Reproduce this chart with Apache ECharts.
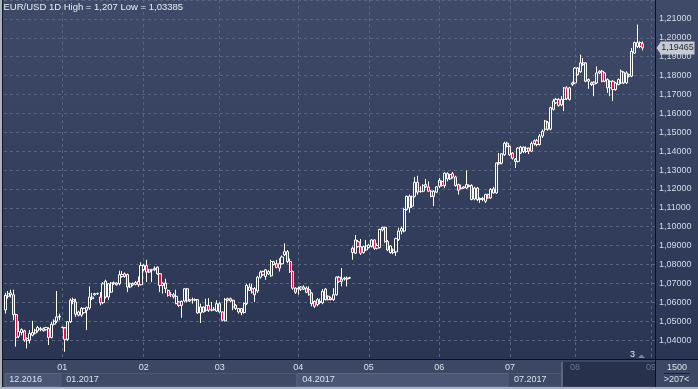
<!DOCTYPE html>
<html><head><meta charset="utf-8">
<script src="https://cdn.jsdelivr.net/npm/echarts@6/dist/echarts.min.js"></script>
<style>html,body{margin:0;padding:0;background:#3b4763;}#c{width:698px;height:389px;}</style>
</head><body><div id="c"></div>
<script>
// ---------------- data ----------------
const titleText = 'EUR/USD 1D High = 1,207 Low = 1,03385';
// month slots on the category axis: [month, year, number of slots]
const monthSlots = [['12','2016',21],['01','2017',30],['02','2017',28],['03','2017',29],['04','2017',26],
  ['05','2017',26],['06','2017',26],['07','2017',24],['08','2017',28],['09','2017',2]];
const monthTickLabels = ['01','02','03','04','05','06','07','08','09'];
const quarterStarts = ['12','01','04','07'];
const dimMonths = ['08','09'];
const cornerTop = '1500';
const cornerBottom = '>207<';
const markerText = '3';
// candles: [open, close, low, high]
const dec2016 = [
 [1.0560,1.0637,1.0540,1.0650],[1.0632,1.0645,1.0620,1.0660],[1.0640,1.0650,1.0625,1.0667],[1.0640,1.0535,1.0505,1.0667],
 [1.0535,1.0414,1.0365,1.0540],[1.0420,1.0445,1.0410,1.0500],[1.0440,1.0456,1.0425,1.0462],[1.0449,1.0400,1.0391,1.0455],
 [1.0397,1.0409,1.0356,1.0415],[1.0400,1.0435,1.0382,1.0453],[1.0426,1.0440,1.0420,1.0502],[1.0437,1.0453,1.0430,1.0460],
 [1.0449,1.0467,1.0440,1.0475],[1.0455,1.0461,1.0447,1.0470],[1.0450,1.0460,1.0445,1.0467],[1.0455,1.0467,1.0450,1.0470],
 [1.0461,1.0414,1.0374,1.0468],[1.0414,1.0484,1.0409,1.0497],[1.0484,1.0500,1.0478,1.0510],[1.0500,1.0523,1.0490,1.0660],
 [1.0522,1.0526,1.0505,1.0540]];
const jan2017 = [
 [1.0467,1.0468,1.0462,1.0470],[1.0465,1.0404,1.03385,1.0470],[1.0404,1.0497,1.0395,1.0500],[1.0497,1.0611,1.0490,1.0620],
 [1.0605,1.0615,1.0590,1.0625],[1.0602,1.0537,1.0523,1.0619],[1.0532,1.0549,1.0525,1.0555],[1.0532,1.0567,1.0523,1.0575],
 [1.0545,1.0567,1.0540,1.0572],[1.0558,1.0572,1.0453,1.0578],[1.0570,1.0628,1.0560,1.0684],[1.0619,1.0628,1.0612,1.0650],
 [1.0640,1.0646,1.0635,1.0650],[1.0645,1.0646,1.0640,1.0652],[1.0628,1.0597,1.0584,1.0654],[1.0598,1.0698,1.0590,1.0707],
 [1.0712,1.0628,1.0620,1.0720],[1.0628,1.0698,1.0612,1.0702],[1.0654,1.0702,1.0650,1.0707],[1.0698,1.0704,1.0693,1.0710],
 [1.0702,1.0693,1.0688,1.0707],[1.0698,1.0746,1.0690,1.0768],[1.0737,1.0747,1.0730,1.0765],[1.0751,1.0737,1.0730,1.0758],
 [1.0747,1.0681,1.0654,1.0752],[1.0681,1.0698,1.0675,1.0705],[1.0692,1.0700,1.0685,1.0705],[1.0695,1.0705,1.0690,1.0712],
 [1.0711,1.0693,1.0681,1.0737],[1.0693,1.0795,1.0690,1.0812]];
const feb2017 = [
 [1.0772,1.0795,1.0765,1.0804],[1.0795,1.0760,1.0707,1.0825],[1.0760,1.0772,1.0755,1.0777],[1.0770,1.0772,1.0707,1.0777],
 [1.0772,1.0780,1.0765,1.0790],[1.0786,1.0751,1.0745,1.0790],[1.0751,1.0689,1.0654,1.0755],[1.0689,1.0702,1.0646,1.0705],
 [1.0702,1.0672,1.0649,1.0725],[1.0663,1.0637,1.0630,1.0668],[1.0642,1.0640,1.0628,1.0654],[1.0640,1.0630,1.0620,1.0650],
 [1.0593,1.0632,1.0590,1.0667],[1.0602,1.0584,1.0575,1.0607],[1.0584,1.0605,1.0518,1.0610],[1.0607,1.0672,1.0600,1.0675],
 [1.0672,1.0607,1.0600,1.0676],[1.0607,1.0614,1.0602,1.0618],[1.0614,1.0612,1.0593,1.0625],[1.0612,1.0615,1.0605,1.0620],
 [1.0614,1.0544,1.0540,1.0616],[1.0544,1.0575,1.0491,1.0593],[1.0575,1.0549,1.0545,1.0580],[1.0558,1.0584,1.0550,1.0619],
 [1.0584,1.0558,1.0549,1.0622],[1.0558,1.0561,1.0552,1.0602],[1.0561,1.0563,1.0555,1.0575],[1.0554,1.0593,1.0549,1.0611]];
const mar2017 = [
 [1.0593,1.0549,1.0545,1.0600],[1.0549,1.0505,1.0502,1.0552],[1.0502,1.0614,1.0498,1.0623],[1.0611,1.0619,1.0605,1.0625],
 [1.0619,1.0607,1.0600,1.0625],[1.0611,1.0575,1.0558,1.0614],[1.0584,1.0567,1.0560,1.0590],[1.0549,1.0567,1.0540,1.0570],
 [1.0567,1.0546,1.0532,1.0570],[1.0546,1.0593,1.0540,1.0600],[1.0593,1.0689,1.0585,1.0698],[1.0681,1.0663,1.0660,1.0700],
 [1.0672,1.0654,1.0646,1.0698],[1.0640,1.0672,1.0602,1.0680],[1.0660,1.0733,1.0650,1.0740],[1.0733,1.0760,1.0725,1.0768],
 [1.0763,1.0746,1.0740,1.0768],[1.0737,1.0772,1.0719,1.0775],[1.0750,1.0763,1.0745,1.0770],[1.0740,1.0816,1.0735,1.0825],
 [1.0800,1.0814,1.0795,1.0820],[1.0805,1.0785,1.0780,1.0825],[1.0781,1.0804,1.0763,1.0833],[1.0804,1.0840,1.0800,1.0848],
 [1.0851,1.0868,1.0845,1.0912],[1.0868,1.0816,1.0807,1.0877],[1.0816,1.0763,1.0755,1.0833],[1.0763,1.0675,1.0667,1.0768],
 [1.0675,1.0653,1.0645,1.0680]];
const apr2017 = [
 [1.0670,1.0675,1.0640,1.0684],[1.0670,1.0681,1.0660,1.0686],[1.0670,1.0681,1.0665,1.0690],[1.0675,1.0653,1.0648,1.0684],
 [1.0667,1.0640,1.0635,1.0684],[1.0649,1.0593,1.0579,1.0652],[1.0605,1.0579,1.0570,1.0610],[1.0588,1.0614,1.0579,1.0623],
 [1.0605,1.0600,1.0590,1.0620],[1.0597,1.0658,1.0590,1.0670],[1.0670,1.0614,1.0610,1.0675],[1.0614,1.0632,1.0610,1.0637],
 [1.0623,1.0614,1.0610,1.0630],[1.0614,1.0640,1.0608,1.0675],[1.0640,1.0733,1.0635,1.0737],[1.0733,1.0711,1.0702,1.0740],
 [1.0711,1.0723,1.0684,1.0781],[1.0723,1.0728,1.0715,1.0735],[1.0723,1.0728,1.0684,1.0737],[1.0728,1.0730,1.0725,1.0735],
 [1.0886,1.0863,1.0825,1.0895],[1.0860,1.0930,1.0855,1.0956],[1.0921,1.0895,1.0890,1.0930],[1.0895,1.0860,1.0851,1.0935],
 [1.0863,1.0895,1.0858,1.0900],[1.0877,1.0898,1.0872,1.0930]];
const may2017 = [
 [1.0890,1.0903,1.0885,1.0910],[1.0895,1.0930,1.0890,1.0935],[1.0930,1.0886,1.0877,1.0933],[1.0886,1.0900,1.0880,1.0912],
 [1.0890,1.0986,1.0885,1.0990],[1.0983,1.0997,1.0975,1.1000],[1.0997,1.0921,1.0915,1.1000],[1.0921,1.0877,1.0870,1.0930],
 [1.0863,1.0898,1.0858,1.0902],[1.0877,1.0863,1.0855,1.0885],[1.0867,1.0937,1.0846,1.0942],[1.0933,1.0977,1.0925,1.0995],
 [1.0977,1.0990,1.0960,1.1000],[1.0977,1.1091,1.0970,1.1100],[1.1091,1.1161,1.1085,1.1165],[1.1161,1.1100,1.1074,1.1170],
 [1.1109,1.1158,1.1100,1.1165],[1.1161,1.1235,1.1155,1.1263],[1.1235,1.1183,1.1170,1.1270],[1.1186,1.1188,1.1180,1.1214],
 [1.1188,1.1218,1.1183,1.1225],[1.1223,1.1211,1.1205,1.1253],[1.1211,1.1188,1.1183,1.1240],[1.1188,1.1161,1.1155,1.1193],
 [1.1161,1.1188,1.1109,1.1193],[1.1183,1.1211,1.1178,1.1215]];
const jun2017 = [
 [1.1214,1.1246,1.1205,1.1258],[1.1240,1.1218,1.1212,1.1245],[1.1218,1.1284,1.1205,1.1288],[1.1281,1.1253,1.1240,1.1288],
 [1.1253,1.1276,1.1248,1.1280],[1.1281,1.1263,1.1255,1.1290],[1.1263,1.1218,1.1212,1.1270],[1.1223,1.1193,1.1170,1.1228],
 [1.1203,1.1205,1.1197,1.1223],[1.1205,1.1211,1.1200,1.1215],[1.1205,1.1223,1.1200,1.1298],[1.1218,1.1214,1.1208,1.1225],
 [1.1218,1.1144,1.1140,1.1225],[1.1147,1.1205,1.1140,1.1211],[1.1205,1.1144,1.1135,1.1211],[1.1144,1.1150,1.1126,1.1155],
 [1.1150,1.1144,1.1135,1.1158],[1.1135,1.1170,1.1126,1.1175],[1.1170,1.1153,1.1148,1.1175],[1.1153,1.1197,1.1148,1.1205],
 [1.1200,1.1179,1.1175,1.1211],[1.1179,1.1337,1.1175,1.1340],[1.1333,1.1340,1.1328,1.1390],[1.1337,1.1386,1.1330,1.1390],
 [1.1381,1.1442,1.1375,1.1450],[1.1442,1.1425,1.1420,1.1450]];
const jul2017 = [
 [1.1425,1.1381,1.1375,1.1430],[1.1390,1.1363,1.1355,1.1395],[1.1358,1.1346,1.1311,1.1363],[1.1346,1.1416,1.1340,1.1420],
 [1.1390,1.1421,1.1385,1.1428],[1.1421,1.1398,1.1390,1.1425],[1.1398,1.1416,1.1390,1.1425],[1.1416,1.1400,1.1385,1.1420],
 [1.1400,1.1440,1.1395,1.1450],[1.1440,1.1455,1.1430,1.1462],[1.1455,1.1435,1.1425,1.1465],[1.1435,1.1480,1.1430,1.1490],
 [1.1480,1.1505,1.1470,1.1515],[1.1516,1.1560,1.1505,1.1565],[1.1551,1.1516,1.1508,1.1560],[1.1516,1.1630,1.1510,1.1635],
 [1.1621,1.1665,1.1615,1.1677],[1.1656,1.1674,1.1650,1.1682],[1.1674,1.1642,1.1635,1.1680],[1.1645,1.1674,1.1638,1.1691],
 [1.1674,1.1735,1.1612,1.1740],[1.1735,1.1677,1.1670,1.1744],[1.1674,1.1735,1.1668,1.1740],[1.1753,1.1761,1.1745,1.1768]];
const aug2017 = [
 [1.1761,1.1840,1.1755,1.1845],[1.1840,1.1805,1.1800,1.1845],[1.1820,1.1867,1.1815,1.1911],[1.1867,1.1858,1.1850,1.1893],
 [1.1867,1.1770,1.1765,1.1870],[1.1770,1.1779,1.1730,1.1785],[1.1753,1.1761,1.1745,1.1768],[1.1755,1.1765,1.1691,1.1770],
 [1.1761,1.1814,1.1755,1.1849],[1.1814,1.1823,1.1808,1.1828],[1.1823,1.1770,1.1765,1.1830],[1.1770,1.1814,1.1765,1.1818],
 [1.1779,1.1735,1.1709,1.1785],[1.1735,1.1770,1.1691,1.1775],[1.1770,1.1726,1.1665,1.1775],[1.1726,1.1761,1.1720,1.1765],
 [1.1753,1.1779,1.1748,1.1785],[1.1761,1.1823,1.1755,1.1832],[1.1818,1.1761,1.1755,1.1822],[1.1761,1.1814,1.1755,1.1823],
 [1.1797,1.1805,1.1790,1.1810],[1.1797,1.1928,1.1792,1.1946],[1.1919,1.1975,1.1915,1.1980],[1.1954,1.1975,1.1946,1.2070],
 [1.1975,1.1954,1.1945,1.1981],[1.1968,1.19465,1.1933,1.1981]];

// ---------------- build ----------------
const categories = [];
monthSlots.forEach(([mm, yy, n]) => { for (let k = 0; k < n; k++) categories.push(mm + '.' + yy + '|' + k); });
const candles = [].concat(dec2016, jan2017, feb2017, mar2017, apr2017, may2017, jun2017, jul2017, aug2017);
const lastClose = candles[candles.length - 1][1];
const FONT = '"Liberation Sans", Arial, sans-serif';
const TXT = '#dbe2ec';
const GRIDC = '#58647f';
const DARK = '#0d1119';
const isMonthStart = (i, v) => v.endsWith('|0');
const isLabelledMonth = (i, v) => v.endsWith('|0') && monthTickLabels.includes(v.slice(0, 2));

const chart = echarts.init(document.getElementById('c'), null, {renderer: 'canvas'});
const option = {
  animation: false,
  grid: {left: 4, right: 43, top: 0, bottom: 30},
  xAxis: [{
    type: 'category', data: categories, boundaryGap: true, position: 'bottom',
    axisLine: {show: true, lineStyle: {color: DARK, width: 1}},
    axisTick: {show: false},
    axisLabel: {interval: isLabelledMonth, formatter: v => v.split('.')[0],
      color: v => dimMonths.includes(String(v).split('.')[0]) ? '#6c7690' : TXT,
      fontSize: 9, fontFamily: FONT, margin: 4},
    splitLine: {show: true, alignWithLabel: true, interval: isLabelledMonth, lineStyle: {color: GRIDC, type: [3, 3], width: 1}}
  }, {
    type: 'category', data: categories, boundaryGap: true, position: 'bottom', offset: 12,
    axisLine: {show: false}, axisTick: {show: false}, splitLine: {show: false},
    axisLabel: {interval: (i, v) => v.endsWith('|0') && quarterStarts.includes(v.slice(0, 2)),
      formatter: v => v.split('|')[0], align: 'left', padding: [0, 0, 0, 4],
      color: TXT, fontSize: 9, fontFamily: FONT, margin: 4}
  }],
  yAxis: {
    type: 'value', position: 'right', min: 1.03, max: 1.22, interval: 0.01,
    axisLine: {show: true, lineStyle: {color: DARK}}, axisTick: {show: false},
    axisLabel: {formatter: v => (v < 1.035 || v > 1.215) ? '' : v.toFixed(5).replace('.', ','),
      color: '#d3dbe6', fontSize: 9, fontFamily: FONT, margin: 4},
    splitLine: {show: true, lineStyle: {color: GRIDC, type: [3, 3], width: 1}}
  },
  series: [{
    type: 'candlestick', data: candles, barWidth: 2.6,
    itemStyle: {color: 'rgba(0,0,0,0)', color0: '#e8103c', borderColor: '#ffffff', borderColor0: '#ffffff', borderWidth: 1}
  }]
};
chart.setOption(option);

// ---------------- decorations aligned to the axes ----------------
const band = 651 / categories.length;
const edge = i => chart.convertToPixel({xAxisIndex: 0}, categories[i]) - band / 2;
const startOf = mm => categories.findIndex(c => c.startsWith(mm + '.') && c.endsWith('|0'));
const yTag = chart.convertToPixel({yAxisIndex: 0}, lastClose);
const bgGrad = new echarts.graphic.LinearGradient(0, 0, 0, 1, [{offset: 0, color: '#3e4a67'}, {offset: 1, color: '#2a3553'}]);
const xDec = edge(startOf('12')), xJan = edge(startOf('01')), xApr = edge(startOf('04')), xJul = edge(startOf('07'));
const els = [
  {type: 'rect', z: -10, silent: true, shape: {x: 0, y: 0, width: 698, height: 359}, style: {fill: bgGrad}},
  {type: 'rect', z: -9, silent: true, shape: {x: 0, y: 359, width: 698, height: 30}, style: {fill: '#3b4763'}},
  {type: 'rect', z: -8, silent: true, shape: {x: xDec + 1, y: 373.5, width: xJan - xDec - 1, height: 13}, style: {fill: '#4a5673', stroke: '#5a6684', lineWidth: 1}},
  {type: 'rect', z: -8, silent: true, shape: {x: xJan, y: 373.5, width: xApr - xJan, height: 13}, style: {fill: '#3e4a66', stroke: '#4b5774', lineWidth: 1}},
  {type: 'rect', z: -8, silent: true, shape: {x: xApr, y: 373.5, width: xJul - xApr, height: 13}, style: {fill: '#4a5673', stroke: '#5a6684', lineWidth: 1}},
  {type: 'rect', z: -8, silent: true, shape: {x: xJul, y: 373.5, width: 562 - xJul, height: 13}, style: {fill: '#3e4a66', stroke: '#4b5774', lineWidth: 1}},
  {type: 'rect', z: -7, silent: true, shape: {x: 563, y: 362, width: 92, height: 24.5}, style: {fill: '#28314b'}},
  {type: 'rect', z: -7, silent: true, shape: {x: 561, y: 362, width: 2, height: 24.5}, style: {fill: '#5b657e'}},
  {type: 'line', z: 20, silent: true, shape: {x1: 0, y1: 359.5, x2: 698, y2: 359.5}, style: {stroke: DARK, lineWidth: 1}},
  {type: 'line', z: 20, silent: true, shape: {x1: 655.5, y1: 0, x2: 655.5, y2: 389}, style: {stroke: DARK, lineWidth: 1}},
  {type: 'line', z: 20, silent: true, shape: {x1: 2.5, y1: 0, x2: 2.5, y2: 389}, style: {stroke: '#141924', lineWidth: 1}},
  {type: 'rect', z: 21, silent: true, shape: {x: 0, y: 0, width: 2, height: 389}, style: {fill: '#aab2bf'}},
  {type: 'rect', z: 21, silent: true, shape: {x: 0, y: 387, width: 698, height: 2}, style: {fill: '#aab2bf'}},
  {type: 'text', z: 22, silent: true, style: {text: titleText, x: 3.5, y: 2, fill: '#e8edf5', fontSize: 9.5, fontFamily: FONT, verticalAlign: 'top'}},
  {type: 'polygon', z: 22, silent: true, shape: {points: [[656.5, yTag], [661, yTag - 6.5], [661, yTag + 6.5]]}, style: {fill: '#c6cad1'}},
  {type: 'rect', z: 22, silent: true, shape: {x: 660.5, y: yTag - 6.5, width: 34, height: 13}, style: {fill: '#c6cad1'}},
  {type: 'text', z: 23, silent: true, style: {text: lastClose.toFixed(5).replace('.', ','), x: 677.5, y: yTag, align: 'center', verticalAlign: 'middle', fill: '#1c2435', fontSize: 9, fontFamily: FONT}},
  {type: 'text', z: 22, silent: true, style: {text: markerText, x: 632.5, y: 355, align: 'center', verticalAlign: 'middle', fill: '#e3e8f0', fontSize: 9, fontFamily: FONT}},
  {type: 'polygon', z: 22, silent: true, shape: {points: [[638, 358], [641.5, 354.5], [645, 358]]}, style: {fill: '#7c8598'}},
  {type: 'text', z: 22, silent: true, style: {text: cornerTop, x: 677, y: 367.5, align: 'center', verticalAlign: 'middle', fill: TXT, fontSize: 9, fontFamily: FONT}},
  {type: 'line', z: 22, silent: true, shape: {x1: 664, y1: 373.5, x2: 690, y2: 373.5}, style: {stroke: '#1b2130', lineWidth: 1}},
  {type: 'text', z: 22, silent: true, style: {text: cornerBottom, x: 676.5, y: 380, align: 'center', verticalAlign: 'middle', fill: TXT, fontSize: 9, fontFamily: FONT}}
];
chart.setOption({graphic: {elements: els}});
</script></body></html>
